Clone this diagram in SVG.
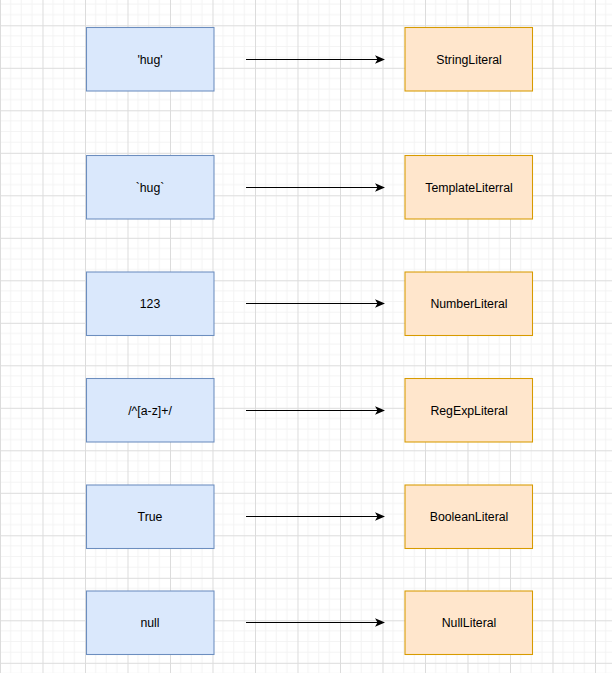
<svg xmlns="http://www.w3.org/2000/svg" width="612" height="673" viewBox="0 0 612 673">
<defs>
<pattern id="grid" patternUnits="userSpaceOnUse" x="0" y="25.3" width="42.5" height="42.5">
<path d="M10.625 0V42.5M21.25 0V42.5M31.875 0V42.5M0 10.625H42.5M0 21.25H42.5M0 31.875H42.5" stroke="#f3f3f3" stroke-width="1" fill="none"/>
<path d="M0.5 0V42.5M0 0.5H42.5" stroke="#dcdcdc" stroke-width="1" fill="none"/>
</pattern>
<marker id="arr" viewBox="0 0 10 10" refX="9" refY="5" markerWidth="10" markerHeight="10" markerUnits="userSpaceOnUse" orient="auto">
<path d="M0 0.8L10 5L0 9.2L2.5 5Z" fill="#000"/>
</marker>
<style>
.src rect{fill:#dae8fc;stroke:#6c8ebf;stroke-width:1.06}
.dst rect{fill:#ffe6cc;stroke:#d79b00;stroke-width:1.06}
text{font-family:"Liberation Sans",Arial,sans-serif;font-size:12.3px;fill:#000;text-anchor:middle}
.edges line{stroke:#000;stroke-width:1.06;marker-end:url(#arr)}
</style>
</defs>
<rect width="612" height="673" fill="#fff"/>
<rect width="612" height="673" fill="url(#grid)"/>
<g class="edges" id="edges">
<line x1="246" y1="59.5" x2="384" y2="59.5"/>
<line x1="246" y1="187.5" x2="384" y2="187.5"/>
<line x1="246" y1="303.5" x2="384" y2="303.5"/>
<line x1="246" y1="410.5" x2="384" y2="410.5"/>
<line x1="246" y1="516.5" x2="384" y2="516.5"/>
<line x1="246" y1="622.5" x2="384" y2="622.5"/>
</g>
<g id="n1" class="src"><rect x="86.5" y="27.5" width="127.5" height="63.5"/><text x="150" y="63.5">'hug'</text></g>
<g id="n2" class="src"><rect x="86.5" y="155.5" width="127.5" height="63.5"/><text x="150" y="191.5">`hug`</text></g>
<g id="n3" class="src"><rect x="86.5" y="272" width="127.5" height="63.5"/><text x="150" y="308">123</text></g>
<g id="n4" class="src"><rect x="86.5" y="378.5" width="127.5" height="63.5"/><text x="150" y="414.5">/^[a-z]+/</text></g>
<g id="n5" class="src"><rect x="86.5" y="485" width="127.5" height="63.5"/><text x="150" y="521">True</text></g>
<g id="n6" class="src"><rect x="86.5" y="591" width="127.5" height="63.5"/><text x="150" y="627">null</text></g>
<g id="m1" class="dst"><rect x="405" y="27.5" width="127.5" height="63.5"/><text x="469" y="63.5">StringLiteral</text></g>
<g id="m2" class="dst"><rect x="405" y="155.5" width="127.5" height="63.5"/><text x="469" y="191.5">TemplateLiterral</text></g>
<g id="m3" class="dst"><rect x="405" y="272" width="127.5" height="63.5"/><text x="469" y="308">NumberLiteral</text></g>
<g id="m4" class="dst"><rect x="405" y="378.5" width="127.5" height="63.5"/><text x="469" y="414.5">RegExpLiteral</text></g>
<g id="m5" class="dst"><rect x="405" y="485" width="127.5" height="63.5"/><text x="469" y="521">BooleanLiteral</text></g>
<g id="m6" class="dst"><rect x="405" y="591" width="127.5" height="63.5"/><text x="469" y="627">NullLiteral</text></g>
</svg>
